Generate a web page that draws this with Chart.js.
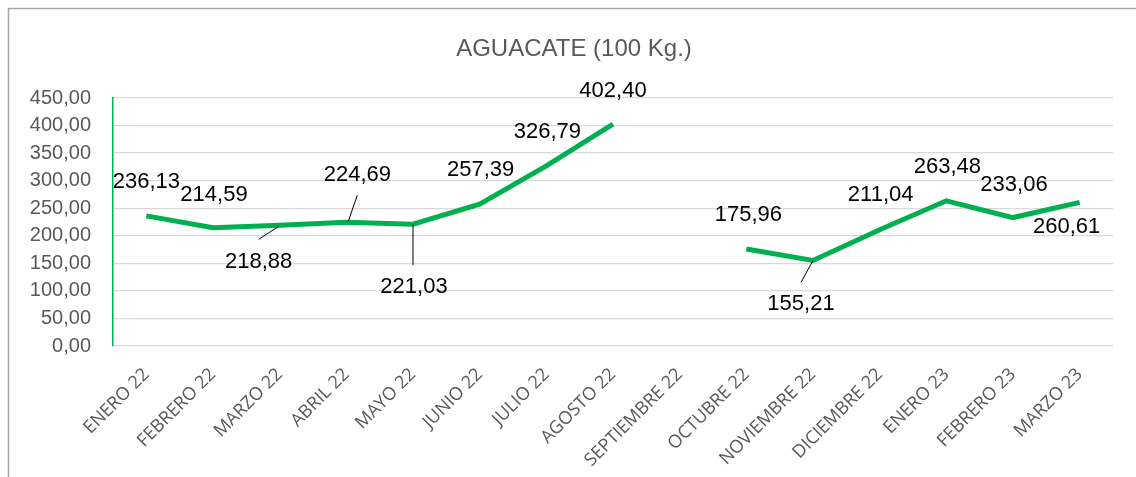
<!DOCTYPE html>
<html>
<head>
<meta charset="utf-8">
<script src="https://cdn.jsdelivr.net/npm/chart.js@4.4.0/dist/chart.umd.min.js"></script>
<style>
html,body{margin:0;padding:0;background:#fff;}
#wrap{position:relative;width:1136px;height:477px;}
</style>
</head>
<body>
<div id="wrap"><canvas id="c" width="1136" height="477"></canvas></div>
<script>
const titleText = 'AGUACATE (100 Kg.)';
const categories = ['ENERO 22','FEBRERO 22','MARZO 22','ABRIL 22','MAYO 22','JUNIO 22','JULIO 22','AGOSTO 22','SEPTIEMBRE 22','OCTUBRE 22','NOVIEMBRE 22','DICIEMBRE 22','ENERO 23','FEBRERO 23','MARZO 23'];
const prices = [236.13,214.59,218.88,224.69,221.03,257.39,326.79,402.40,null,175.96,155.21,211.04,263.48,233.06,260.61];
const yTicks = [0,50,100,150,200,250,300,350,400,450];

// label placement (offsets from point, px) and leader lines
const labelOffsets = [[0,-34],[1,-33],[-21,37],[11,-47],[1,63],[1,-34],[1,-34],[0,-33],null,[2,-34],[-12,43],[1,-35],[1,-34],[1,-33],[-13,25]];
const leaders = {2:[[-1,1],[-21,14]],3:[[2,-1],[11,-27]],4:[[0,0],[0,41]],10:[[0,0],[-12,22]]};

const fmt = v => v.toFixed(2).replace('.', ',');

const deco = {
  id:'deco',
  beforeDraw(chart){
    const ctx = chart.ctx;
    ctx.save();
    ctx.fillStyle = '#fff';
    ctx.fillRect(0,0,chart.width,chart.height);
    ctx.strokeStyle = '#a6a6a6';
    ctx.lineWidth = 1.5;
    ctx.strokeRect(8.5,8.5,1140,480);
    ctx.fillStyle = '#595959';
    ctx.font = '24px "Liberation Sans", Arial, sans-serif';
    ctx.textAlign = 'center';
    ctx.textBaseline = 'middle';
    ctx.fillText(titleText, 574, 49);
    ctx.restore();
  },
  afterDatasetsDraw(chart){
    const ctx = chart.ctx;
    const meta = chart.getDatasetMeta(0);
    ctx.save();
    ctx.strokeStyle = '#000';
    ctx.lineWidth = 1;
    Object.keys(leaders).forEach(k => {
      const p = meta.data[k];
      const [a,b] = leaders[k];
      ctx.beginPath();
      ctx.moveTo(p.x + a[0], p.y + a[1]);
      ctx.lineTo(p.x + b[0], p.y + b[1]);
      ctx.stroke();
    });
    ctx.fillStyle = '#000';
    ctx.font = '22px "Liberation Sans", Arial, sans-serif';
    ctx.textAlign = 'center';
    ctx.textBaseline = 'middle';
    prices.forEach((v,i) => {
      if (v === null) return;
      const p = meta.data[i];
      const o = labelOffsets[i];
      ctx.fillText(fmt(v), p.x + o[0], p.y + o[1]);
    });
    ctx.restore();
  }
};

new Chart(document.getElementById('c'), {
  type:'line',
  data:{
    labels: categories,
    datasets:[{
      data: prices,
      borderColor:'#00B050',
      borderWidth:5,
      pointRadius:0,
      pointHoverRadius:0,
      spanGaps:false,
      tension:0,
      fill:false
    }]
  },
  options:{
    responsive:false,
    animation:false,
    devicePixelRatio:1,
    layout:{padding:{left:0,top:98,right:23,bottom:0}},
    plugins:{legend:{display:false},title:{display:false},tooltip:{enabled:false}},
    scales:{
      x:{
        offset:true,
        grid:{display:false,drawTicks:false},
        border:{display:false},
        ticks:{
          autoSkip:false,
          minRotation:45,maxRotation:45,
          color:'#595959',
          padding:18,
          font:{family:'"Open Sans", "Liberation Sans", sans-serif',size:18}
        },
        afterFit(s){ s.height = 131; }
      },
      y:{
        min:0,max:450,
        afterBuildTicks(s){ s.ticks = yTicks.map(v => ({value:v})); },
        grid:{color:'#d9d9d9',lineWidth:1.3,drawTicks:false},
        border:{display:true,color:'#00B050',width:1.5},
        ticks:{
          color:'#595959',
          padding:22,
          font:{family:'"Liberation Sans", Arial, sans-serif',size:20},
          callback:v => fmt(v)
        },
        afterFit(s){ s.width = 113; }
      }
    }
  },
  plugins:[deco]
});
</script>
</body>
</html>
